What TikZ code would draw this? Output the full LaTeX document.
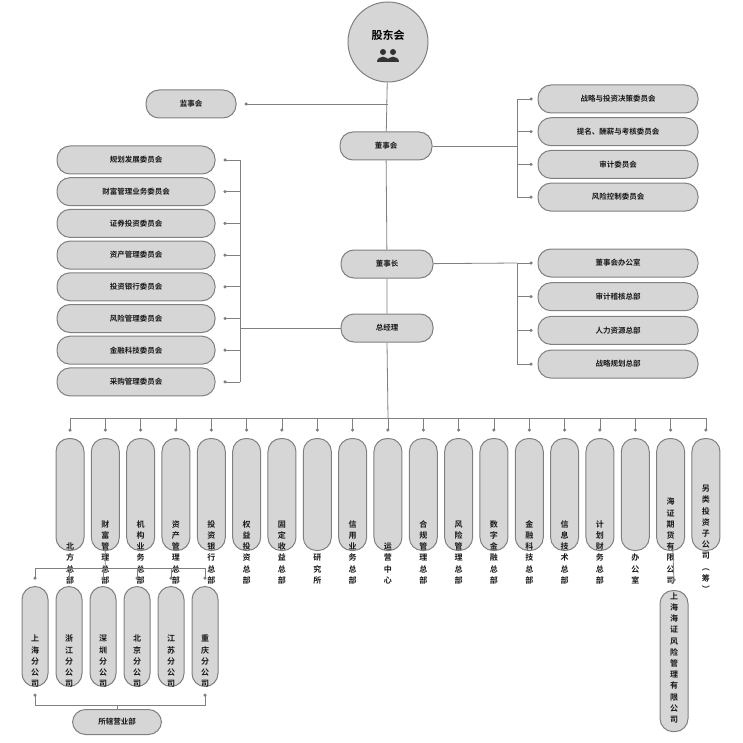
\documentclass[tikz,border=0pt]{standalone}
\usepackage{fontspec}
\newfontfamily\cjk{Noto Sans CJK SC}[BoldFont={Noto Sans CJK SC Bold}]
\begin{document}
\begin{tikzpicture}[x=1pt,y=-1pt,
  box/.style={draw=black!50,line width=1pt,fill=black!16,rounded corners=13pt,font=\cjk\bfseries\fontsize{7.5}{9}\selectfont,text=black!90},
  hbox/.style={box,minimum height=28pt},
  vbox/.style={box,minimum width=28pt,rounded corners=13pt,align=center,font=\cjk\bfseries\fontsize{8}{11.2}\selectfont,inner sep=2pt},
  ln/.style={draw=black!50,line width=0.8pt},
  dot/.style={circle,fill=black!50,inner sep=0pt,minimum size=3.5pt}]
\useasboundingbox (0,0) rectangle (743,743);
% top
\node[draw=black!50,line width=1pt,fill=black!16,circle,minimum size=80pt] (gd) at (388,42) {};
\node[font=\cjk\bfseries\fontsize{11}{13}\selectfont] (gdt) at (388,35) {股东会};
\fill[black!80] (383,52) circle (3) (393,52) circle (3);
\fill[black!80] (377,62) .. controls (377,55) and (389,55) .. (389,62) -- cycle;
\fill[black!80] (387,62) .. controls (387,55) and (399,55) .. (399,62) -- cycle;
\node[hbox,minimum width=90pt] (jsh) at (191,104) {监事会};
\node[hbox,minimum width=92pt] (dsh) at (386,146) {董事会};
\node[hbox,minimum width=92pt] (dsz) at (387,264) {董事长};
\node[hbox,minimum width=92pt] (zjl) at (387,328) {总经理};
\draw[ln] (gd) -- (dsh) (dsh) -- (dsz) (dsz) -- (zjl) (zjl.south) -- (388,418);
\coordinate (jd) at (246,104);
\draw[ln] (jd) -- (388,104);
\node[dot] at (jd) {};
% right committees
\foreach \t [count=\i] in {战略与投资决策委员会,{提名、酬薪与考核委员会},审计委员会,风险控制委员会}{
  \node[hbox,minimum width=160pt] (r\i) at (618,{99+(\i-1)*32.7}) {\t};
  \draw[ln] (517,{99+(\i-1)*32.7}) -- (531,{99+(\i-1)*32.7});
  \node[dot] at (531,{99+(\i-1)*32.7}) {};
}
\draw[ln] (517,99) -- (517,197);
\draw[ln] (dsh) -- (517,146);
\foreach \t [count=\i] in {董事会办公室,审计稽核总部,人力资源总部,战略规划总部}{
  \node[hbox,minimum width=160pt] (o\i) at (618,{263+(\i-1)*33.7}) {\t};
  \draw[ln] (517,{263+(\i-1)*33.7}) -- (531,{263+(\i-1)*33.7});
  \node[dot] at (531,{263+(\i-1)*33.7}) {};
}
\draw[ln] (517,263) -- (517,364);
\draw[ln] (dsz) -- (517,263);
% left committees
\foreach \t [count=\i] in {规划发展委员会,财富管理业务委员会,证券投资委员会,资产管理委员会,投资银行委员会,风险管理委员会,金融科技委员会,采购管理委员会}{
  \node[hbox,minimum width=158pt] (l\i) at (136,{160+(\i-1)*31.7}) {\t};
  \draw[ln] (225,{160+(\i-1)*31.7}) -- (240,{160+(\i-1)*31.7});
  \node[dot] at (225,{160+(\i-1)*31.7}) {};
}
\draw[ln] (240,160) -- (240,382);
\draw[ln] (zjl) -- (240,328);
% departments
\draw[ln] (70,418) -- (706,418);
\foreach \t [count=\i] in {北\\方\\总\\部,财\\富\\管\\理\\总\\部,机\\构\\业\\务\\总\\部,资\\产\\管\\理\\总\\部,投\\资\\银\\行\\总\\部,权\\益\\投\\资\\总\\部,固\\定\\收\\益\\总\\部,研\\究\\所,信\\用\\业\\务\\总\\部,运\\营\\中\\心,合\\规\\管\\理\\总\\部,风\\险\\管\\理\\总\\部,数\\字\\金\\融\\总\\部,金\\融\\科\\技\\总\\部,信\\息\\技\\术\\总\\部,计\\划\\财\\务\\总\\部,办\\公\\室,海\\证\\期\\货\\有\\限\\公\\司,另\\类\\投\\资\\子\\公\\司\\︵\\筹\\︶}{
  \pgfmathsetmacro\xx{70+(\i-1)*35.33}
  \node[vbox,minimum height=112pt,anchor=north] (d\i) at (\xx,438) {\t\\[-100pt]};
  \draw[ln] (\xx,418) -- (\xx,430);
  \node[dot] at (\xx,430) {};
}
% branches
\draw[ln] (d2) -- (105.3,568);
\draw[ln] (35,568) -- (205,568);
\foreach \t [count=\i] in {上\\海\\分\\公\\司,浙\\江\\分\\公\\司,深\\圳\\分\\公\\司,北\\京\\分\\公\\司,江\\苏\\分\\公\\司,重\\庆\\分\\公\\司}{
  \pgfmathsetmacro\xx{35+(\i-1)*34}
  \node[vbox,minimum width=26pt,minimum height=100pt,anchor=north] (b\i) at (\xx,586) {\t\\[-60pt]};
  \draw[ln] (\xx,568) -- (\xx,578);
  \node[dot] at (\xx,578) {};
}
\node[hbox,minimum width=89pt,minimum height=25pt] (yyb) at (117,722) {所辖营业部};
\draw[ln] (35,695) -- (35,705) -- (205,705) -- (205,695);
\node[dot] at (35,695) {};\node[dot] at (205,695) {};
\draw[ln] (yyb) -- (117,705);
\node[vbox,minimum height=132pt,anchor=north] (fx) at (674,590) {上\\海\\海\\证\\风\\险\\管\\理\\有\\限\\公\\司\\[-4pt]};
\draw[ln] (d18) -- (674,580);
\node[dot] at (674,580) {};
\end{tikzpicture}
\end{document}
